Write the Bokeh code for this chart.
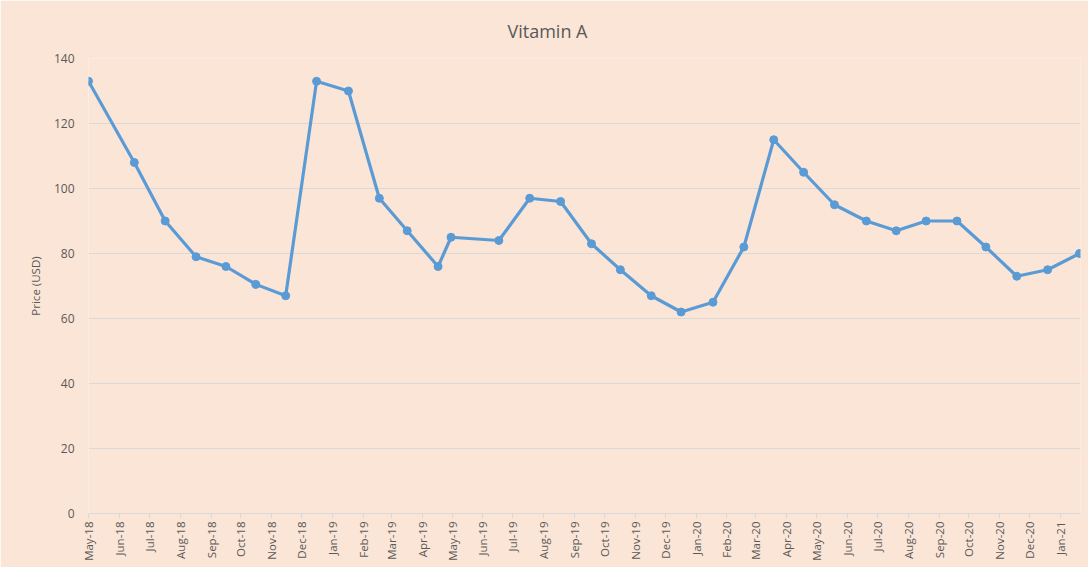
import math
import pandas as pd
from bokeh.plotting import figure
from bokeh.models import Range1d, MonthsTicker, DatetimeTickFormatter
from bokeh.embed import file_html
from bokeh.resources import INLINE

dates = ["2018-05-01", "2018-06-16", "2018-07-17", "2018-08-17", "2018-09-16", "2018-10-16",
         "2018-11-15", "2018-12-16", "2019-01-17", "2019-02-17", "2019-03-17", "2019-04-17",
         "2019-04-30", "2019-06-17", "2019-07-18", "2019-08-18", "2019-09-18", "2019-10-17",
         "2019-11-17", "2019-12-17", "2020-01-18", "2020-02-18", "2020-03-19", "2020-04-18",
         "2020-05-19", "2020-06-20", "2020-07-20", "2020-08-19", "2020-09-19", "2020-10-18",
         "2020-11-18", "2020-12-19", "2021-01-20"]
prices = [133, 108, 90, 79, 76, 70.5, 67, 133, 130, 97, 87, 76,
          85, 84, 97, 96, 83, 75, 67, 62, 65, 82, 115, 105,
          95, 90, 87, 90, 90, 82, 73, 75, 80]
y_ticks = [0, 20, 40, 60, 80, 100, 120, 140]

x = pd.to_datetime(dates)

BG = "#FBE5D6"
LINE = "#5B9BD5"
TXT = "#595959"
GRID = "#D9D9D9"
FONT = "Open Sans"

p = figure(width=1088, height=567, output_backend="svg", toolbar_location=None,
           x_axis_type="datetime",
           x_range=Range1d(pd.Timestamp("2018-05-01"), pd.Timestamp("2021-01-21")),
           y_range=Range1d(0, 140),
           min_border_left=88, min_border_right=8, min_border_top=58, min_border_bottom=54,
           title="Vitamin A")

p.background_fill_color = BG
p.border_fill_color = BG
p.outline_line_color = None

p.title.align = "left"
p.title.text_font = FONT
p.title.text_font_size = "18px"
p.title.text_font_style = "normal"
p.title.text_color = TXT
p.title.standoff = 31
p.title.offset = 419

p.line(x, prices, line_color=LINE, line_width=3.2)
p.scatter(x, prices, size=8, fill_color=LINE, line_color=LINE)

# x axis
p.xaxis.ticker = MonthsTicker(months=list(range(12)))
p.xaxis.formatter = DatetimeTickFormatter(months="%b-%y", days="%b-%y", years="%b-%y")
p.xaxis.major_label_orientation = math.pi / 2
p.xaxis.axis_line_color = GRID
p.xaxis.major_tick_line_color = GRID
p.xaxis.major_tick_out = 5
p.xaxis.major_tick_in = 0
p.xaxis.minor_tick_line_color = None
p.xaxis.major_label_text_font = FONT
p.xaxis.major_label_text_font_size = "11.5px"
p.xaxis.major_label_text_color = TXT
p.xaxis.major_label_standoff = 3
p.xgrid.grid_line_color = None

# y axis
p.yaxis.ticker = y_ticks
p.yaxis.axis_line_color = None
p.yaxis.major_tick_line_color = None
p.yaxis.minor_tick_line_color = None
p.yaxis.major_label_text_font = FONT
p.yaxis.major_label_text_font_size = "12px"
p.yaxis.major_label_text_color = TXT
p.yaxis.major_label_standoff = 8
p.yaxis.axis_label = "Price (USD)"
p.yaxis.axis_label_text_font = FONT
p.yaxis.axis_label_text_font_size = "11.5px"
p.yaxis.axis_label_text_font_style = "normal"
p.yaxis.axis_label_text_color = TXT
p.yaxis.axis_label_standoff = 8
p.ygrid.grid_line_color = GRID
p.ygrid.grid_line_width = 1

open("out.html", "w").write(file_html(p, INLINE))
